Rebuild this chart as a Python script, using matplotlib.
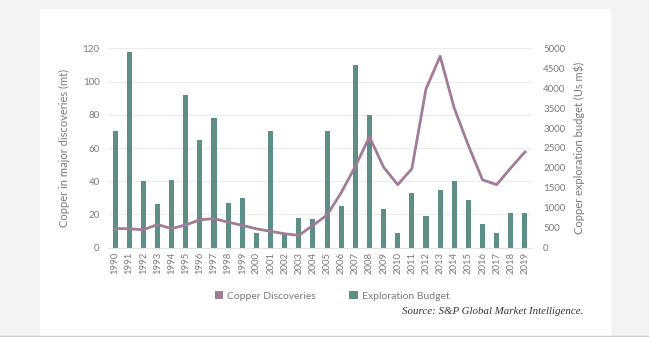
import matplotlib
matplotlib.use("Agg")
import matplotlib.pyplot as plt
from matplotlib.patches import Patch, Rectangle
import numpy as np

years = list(range(1990, 2020))
budget = [70, 118, 40, 26, 41, 92, 65, 78, 27, 30,
          9, 70, 9, 18, 17, 70, 25, 110, 80, 23,
          9, 33, 19, 35, 40, 29, 14, 9, 21, 21]
discoveries = [480, 475, 450, 580, 480, 570, 700, 730, 640, 560,
               475, 410, 350, 310, 560, 820, 1380, 2040, 2780, 2020,
               1580, 1980, 3980, 4800, 3500, 2560, 1700, 1580, 2000, 2400]

left_ticks = [0, 20, 40, 60, 80, 100, 120]
right_ticks = list(range(0, 5001, 500))

bar_color = "#5e8f87"
line_color = "#a27b98"
text_color = "#7a7a7a"
font = "Lato"
weight = "normal"

fig = plt.figure(figsize=(6.49, 3.37), dpi=100)
fig.patch.set_facecolor("#f3f3f3")

# white card behind the chart
W, H = 649, 337
card = Rectangle((40 / W, 1 - 336 / H), (611 - 40) / W, (336 - 9) / H,
                 transform=fig.transFigure, facecolor="white",
                 edgecolor="none", zorder=-10)
fig.add_artist(card)
fig.add_artist(plt.Line2D([0, 1], [1 - 336 / H, 1 - 336 / H],
                          transform=fig.transFigure, color="#cfcfcf", lw=1,
                          zorder=-9))

ax = fig.add_axes([108 / W, 1 - 247.7 / H, (532 - 108) / W, (247.7 - 48.3) / H])
ax.set_facecolor("none")
x = np.arange(len(years))
ax.bar(x, budget, width=0.36, color=bar_color, zorder=2)
ax.set_ylim(0, 120)
ax.set_xlim(-0.5, len(years) - 0.5)
ax.set_yticks(left_ticks)
ax.yaxis.grid(True, color="#ececec", lw=0.8, zorder=0)
ax.set_axisbelow(True)
ax.set_xticks(x)
ax.set_xticklabels([str(y) for y in years], rotation=90, family=font,
                   fontsize=6.8, color=text_color, fontweight=weight)
for lab in ax.get_yticklabels():
    lab.set_family(font)
    lab.set_fontsize(7)
    lab.set_color(text_color)
    lab.set_fontweight(weight)
ax.tick_params(length=0, pad=6)
ax.tick_params(axis="x", pad=3)
for s in ax.spines.values():
    s.set_visible(False)
ax.spines["bottom"].set_visible(True)
ax.spines["bottom"].set_color("#e3e3e3")
ax.set_ylabel("Copper in major discoveries (mt)", family=font, fontsize=8,
              color=text_color, fontweight=weight, labelpad=9)

ax2 = ax.twinx()
ax2.plot(x, discoveries, color=line_color, lw=2.0, zorder=3,
         solid_joinstyle="round")
ax2.set_ylim(0, 5000)
ax2.set_yticks(right_ticks)
for lab in ax2.get_yticklabels():
    lab.set_family(font)
    lab.set_fontsize(7)
    lab.set_color(text_color)
    lab.set_fontweight(weight)
ax2.tick_params(length=0, pad=8)
for s in ax2.spines.values():
    s.set_visible(False)
ax2.set_ylabel("Copper exploration budget (Us m$)", family=font, fontsize=8,
               color=text_color, fontweight=weight, labelpad=6)

handles = [Patch(facecolor=line_color, label="Copper Discoveries"),
           Patch(facecolor=bar_color, label="Exploration Budget")]
fig.legend(handles=handles, loc="center", bbox_to_anchor=(332 / W, 1 - 296 / H),
           ncol=2, frameon=False, handlelength=0.8, handleheight=0.8,
           columnspacing=3.2, handletextpad=0.4,
           prop={"family": font, "size": 7.5, "weight": weight},
           labelcolor=text_color)

fig.text(583 / W, 1 - 312 / H, "Source: S&P Global Market Intelligence.",
         ha="right", va="center", family="Liberation Serif", style="italic",
         fontsize=7.8, color="#333333")

fig.savefig("out.png", dpi=100, facecolor=fig.get_facecolor())
